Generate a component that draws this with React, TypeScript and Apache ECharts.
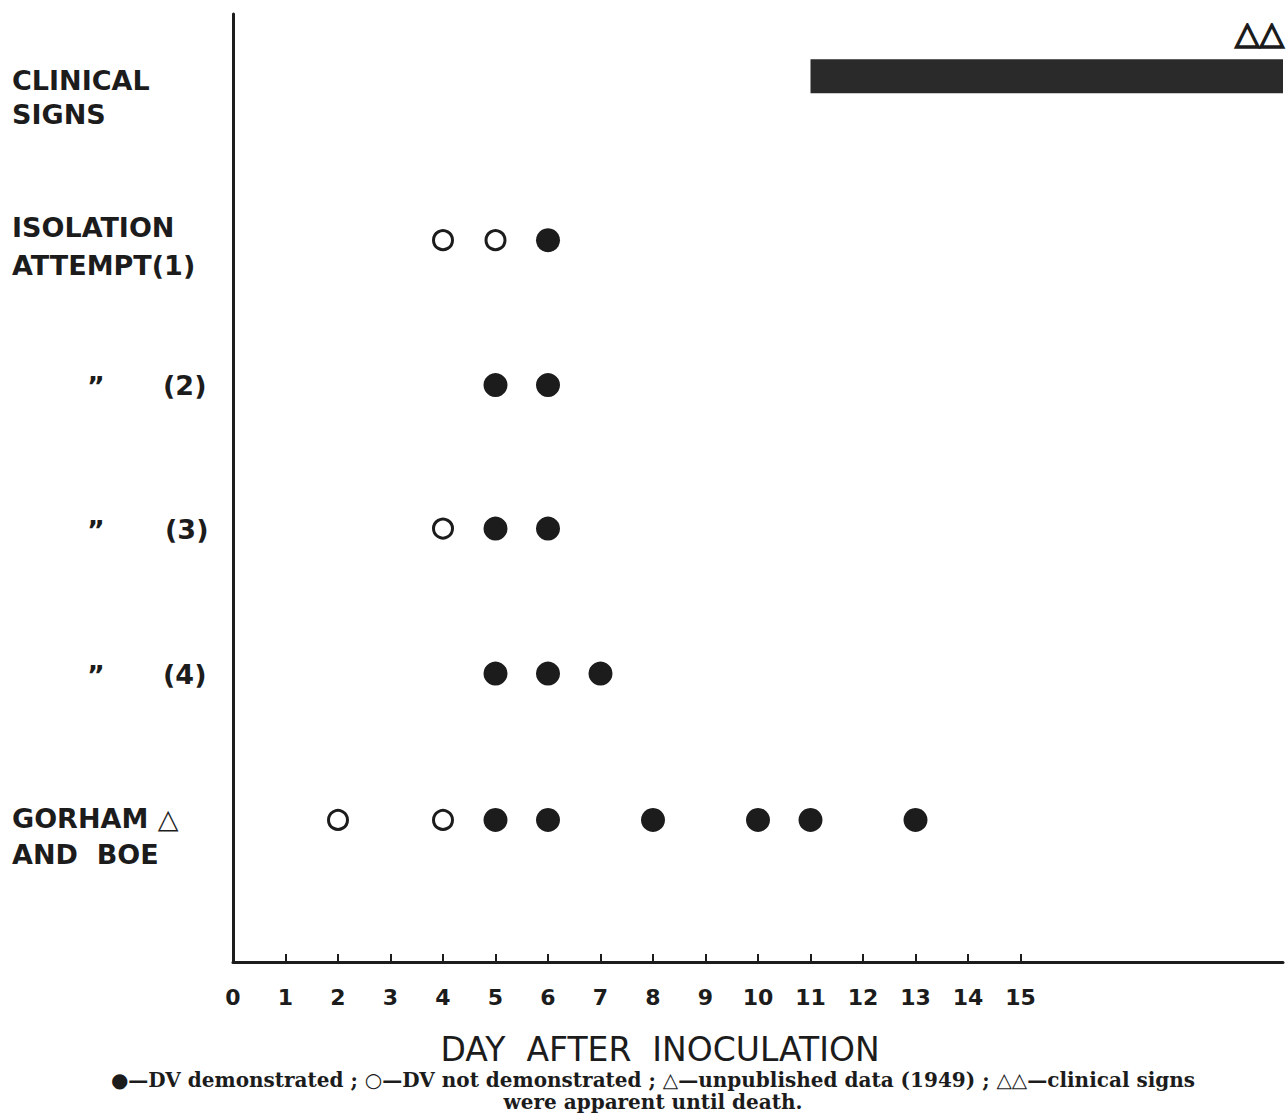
import React, { useEffect, useRef } from "react";
import * as echarts from "echarts";

// Days after inoculation (x values)
const xTickDays = [1, 2, 3, 4, 5, 6, 7, 8, 9, 10, 11, 12, 13, 14, 15];
const xLabelDays = [0, 1, 2, 3, 4, 5, 6, 7, 8, 9, 10, 11, 12, 13, 14, 15];

// Row positions on the vertical scale
const rowClinical = 6.11;
const rowIso1 = 4.98;
const rowIso2 = 3.98;
const rowIso3 = 2.99;
const rowIso4 = 1.99;
const rowGorham = 0.98;

// Clinical signs: apparent from day 11 until death (end of axis)
const clinicalStart = 11;
const clinicalEnd = 20;

// DV demonstrated (filled) / not demonstrated (open)
const iso1Open = [4, 5];
const iso1Filled = [6];
const iso2Open: number[] = [];
const iso2Filled = [5, 6];
const iso3Open = [4];
const iso3Filled = [5, 6];
const iso4Open: number[] = [];
const iso4Filled = [5, 6, 7];
const gorhamOpen = [2, 4];
const gorhamFilled = [5, 6, 8, 10, 11, 13];

const pts = (days: number[], row: number) => days.map((d) => [d, row]);

export default function App() {
  const ref = useRef<HTMLDivElement>(null);
  useEffect(() => {
    if (!ref.current) return;
    const chart = echarts.init(ref.current, undefined, { renderer: "svg" });
    const ink = "#1c1c1c";
    const labelFont = "DejaVu Sans";
    const rowLabelStyle = { fill: ink, font: `bold 27px "${labelFont}"`, lineHeight: 34 } as any;

    const filled = [
      ...pts(iso1Filled, rowIso1),
      ...pts(iso2Filled, rowIso2),
      ...pts(iso3Filled, rowIso3),
      ...pts(iso4Filled, rowIso4),
      ...pts(gorhamFilled, rowGorham),
    ];
    const open = [
      ...pts(iso1Open, rowIso1),
      ...pts(iso2Open, rowIso2),
      ...pts(iso3Open, rowIso3),
      ...pts(iso4Open, rowIso4),
      ...pts(gorhamOpen, rowGorham),
    ];

    const captionStyle = {
      fill: ink,
      font: `bold 20px "DejaVu Serif"`,
      align: "center",
      verticalAlign: "middle",
    } as any;

    chart.setOption({
      animation: false,
      backgroundColor: "#ffffff",
      grid: { left: 233, right: 5, top: 14, bottom: 152, containLabel: false },
      xAxis: {
        type: "value",
        min: 0,
        max: 20,
        interval: 1,
        axisLine: { show: true, onZero: false, lineStyle: { color: ink, width: 3 } },
        axisTick: {
          show: true,
          inside: true,
          length: 8,
          customValues: xTickDays,
          lineStyle: { color: ink, width: 2 },
        },
        axisLabel: {
          show: true,
          customValues: xLabelDays,
          margin: 24,
          color: ink,
          fontFamily: labelFont,
          fontWeight: "bold",
          fontSize: 22,
        },
        splitLine: { show: false },
      },
      yAxis: {
        type: "value",
        min: 0,
        max: 6.54,
        axisLine: { show: true, lineStyle: { color: ink, width: 3 } },
        axisTick: { show: false },
        axisLabel: { show: false },
        splitLine: { show: false },
      },
      series: [
        {
          type: "line",
          name: "Clinical signs",
          data: [
            [clinicalStart, rowClinical],
            [clinicalEnd, rowClinical],
          ],
          symbol: "none",
          lineStyle: { color: "#2a2a2a", width: 34, cap: "butt" },
        },
        {
          type: "scatter",
          name: "DV demonstrated",
          data: filled,
          symbol: "circle",
          symbolSize: 24,
          itemStyle: { color: ink, opacity: 1 },
        },
        {
          type: "scatter",
          name: "DV not demonstrated",
          data: open,
          symbol: "circle",
          symbolSize: 19,
          itemStyle: { color: "#ffffff", borderColor: ink, borderWidth: 3, opacity: 1 },
        },
      ],
      graphic: [
        { type: "text", left: 12, top: 63, style: { ...rowLabelStyle, text: "CLINICAL\nSIGNS" } },
        {
          type: "text",
          left: 12,
          top: 208,
          style: { ...rowLabelStyle, lineHeight: 38, text: "ISOLATION\nATTEMPT(1)" },
        },
        { type: "text", left: 87, top: 369, style: { ...rowLabelStyle, text: "\u201D" } },
        { type: "text", left: 163, top: 368, style: { ...rowLabelStyle, text: "(2)" } },
        { type: "text", left: 87, top: 513, style: { ...rowLabelStyle, text: "\u201D" } },
        { type: "text", left: 165, top: 512, style: { ...rowLabelStyle, text: "(3)" } },
        { type: "text", left: 87, top: 658, style: { ...rowLabelStyle, text: "\u201D" } },
        { type: "text", left: 163, top: 657, style: { ...rowLabelStyle, text: "(4)" } },
        {
          type: "text",
          left: 12,
          top: 800,
          style: { ...rowLabelStyle, lineHeight: 36, text: "GORHAM \u25B3\nAND  BOE" },
        },
        {
          type: "text",
          right: 3,
          top: 16,
          style: {
            fill: ink,
            stroke: ink,
            lineWidth: 1.6,
            font: `bold 32px "${labelFont}"`,
            text: "\u25B3\u25B3",
          },
        },
        {
          type: "text",
          x: 660,
          y: 1049,
          style: {
            fill: ink,
            font: `33px "${labelFont}"`,
            text: "DAY  AFTER  INOCULATION",
            align: "center",
            verticalAlign: "middle",
          },
        },
        {
          type: "text",
          x: 653,
          y: 1080,
          style: {
            ...captionStyle,
            text: "\u25CF\u2014DV demonstrated ; \u25CB\u2014DV not demonstrated ; \u25B3\u2014unpublished data (1949) ; \u25B3\u25B3\u2014clinical signs",
          },
        },
        {
          type: "text",
          x: 653,
          y: 1102,
          style: { ...captionStyle, text: "were apparent until death." },
        },
      ],
    });
    return () => chart.dispose();
  }, []);
  return <div ref={ref} style={{ width: 1288, height: 1114, position: "absolute", left: 0, top: 0 }} />;
}
